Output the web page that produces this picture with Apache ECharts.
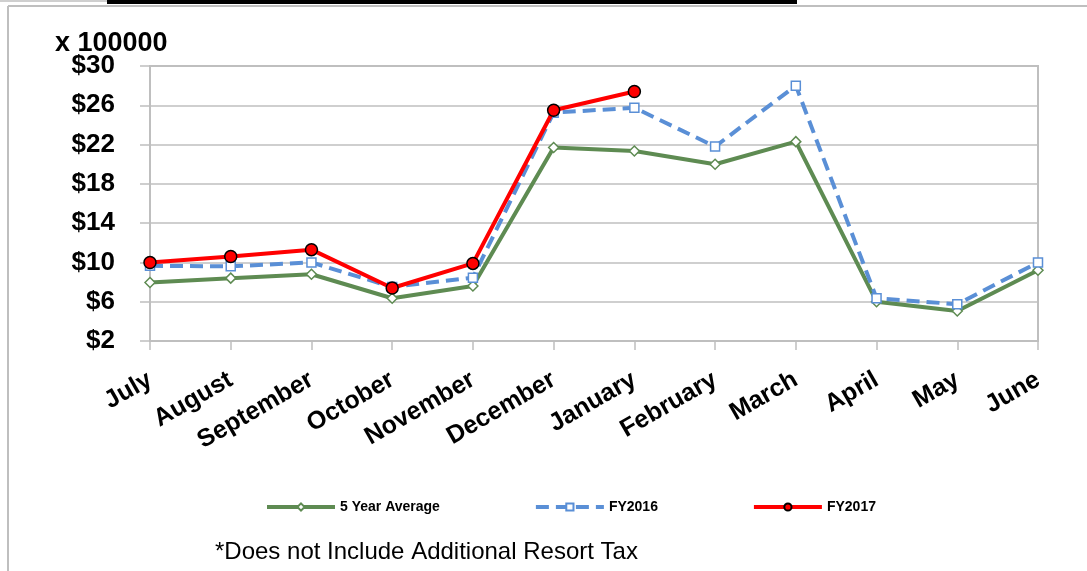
<!DOCTYPE html>
<html>
<head>
<meta charset="utf-8">
<script src="https://cdn.jsdelivr.net/npm/echarts@6/dist/echarts.min.js"></script>
<style>
html,body{margin:0;padding:0;background:#fff;}
#chart{width:1087px;height:571px;}
</style>
</head>
<body>
<div id="chart"></div>
<script>
const months = ['July','August','September','October','November','December','January','February','March','April','May','June'];
const fiveYearAvg = [7.95, 8.4, 8.8, 6.35, 7.6, 21.7, 21.35, 20.0, 22.3, 6.0, 5.05, 9.2];
const fy2016 = [9.65, 9.6, 10.0, 7.5, 8.45, 25.25, 25.75, 21.8, 28.0, 6.35, 5.75, 10.0];
const fy2017 = [10.0, 10.6, 11.3, 7.4, 9.9, 25.5, 27.4];
const yTicks = { min: 2, max: 30, interval: 4 };

const FONT = 'Liberation Sans, Arial, sans-serif';
const chart = echarts.init(document.getElementById('chart'));
chart.setOption({
  animation: false,
  backgroundColor: '#fff',
  grid: { left: 150, right: 49, top: 66, bottom: 230, show: true, borderColor: '#bfbfbf', borderWidth: 2, containLabel: false },
  graphic: [
    { type: 'line', shape: { x1: 8, y1: 6, x2: 8, y2: 571 }, style: { stroke: '#bfbfbf', lineWidth: 2 } },
    { type: 'line', shape: { x1: 8, y1: 6, x2: 1087, y2: 6 }, style: { stroke: '#bfbfbf', lineWidth: 2 } },
    { type: 'line', shape: { x1: 0, y1: 1, x2: 107, y2: 1 }, style: { stroke: '#bfbfbf', lineWidth: 1.5 } },
    { type: 'rect', shape: { x: 107, y: 0, width: 690, height: 4 }, style: { fill: '#000' } },
    { type: 'text', left: 55, top: 30, style: { text: 'x 100000', font: 'bold 27px ' + FONT, fill: '#000' } },
    { type: 'text', left: 215, top: 540, style: { text: '*Does not Include Additional Resort Tax', font: '24px ' + FONT, fill: '#000' } }
  ],
  legend: {
    left: 260, top: 495, itemWidth: 68, itemHeight: 9, itemGap: 94,
    lineStyle: { width: 4 },
    textStyle: { fontFamily: FONT, fontWeight: 'bold', fontSize: 14, color: '#000' },
    data: ['5 Year Average', 'FY2016', 'FY2017']
  },
  xAxis: {
    type: 'category', data: months, boundaryGap: false,
    axisLine: { lineStyle: { color: '#bfbfbf', width: 2 } },
    axisTick: { show: true, alignWithLabel: true, length: 9, lineStyle: { color: '#bfbfbf', width: 1.5 } },
    axisLabel: { interval: 0, rotate: 30, margin: 37, fontFamily: FONT, fontWeight: 'bold', fontSize: 25, color: '#000' }
  },
  yAxis: {
    type: 'value', min: yTicks.min, max: yTicks.max, interval: yTicks.interval,
    axisLine: { show: true, lineStyle: { color: '#bfbfbf', width: 2 } },
    axisTick: { show: true, length: 10, lineStyle: { color: '#bfbfbf', width: 1.5 } },
    splitLine: { lineStyle: { color: '#bfbfbf', width: 1.5 } },
    axisLabel: { margin: 35, formatter: v => '$' + v, fontFamily: FONT, fontWeight: 'bold', fontSize: 26, color: '#000' }
  },
  series: [
    { name: '5 Year Average', type: 'line', data: fiveYearAvg, symbol: 'diamond', symbolSize: 10,
      lineStyle: { color: '#5e8b52', width: 4 }, itemStyle: { color: '#fff', borderColor: '#5e8b52', borderWidth: 1.5 }, z: 2 },
    { name: 'FY2016', type: 'line', data: fy2016, symbol: 'rect', symbolSize: 9,
      lineStyle: { color: '#5a8fd6', width: 4, type: [13, 7] }, itemStyle: { color: '#fff', borderColor: '#5a8fd6', borderWidth: 1.5 }, z: 3 },
    { name: 'FY2017', type: 'line', data: fy2017, symbol: 'circle', symbolSize: 12,
      lineStyle: { color: '#ff0000', width: 4 }, itemStyle: { color: '#ff0000', borderColor: '#000', borderWidth: 1.5 }, z: 4 }
  ]
});
</script>
</body>
</html>
